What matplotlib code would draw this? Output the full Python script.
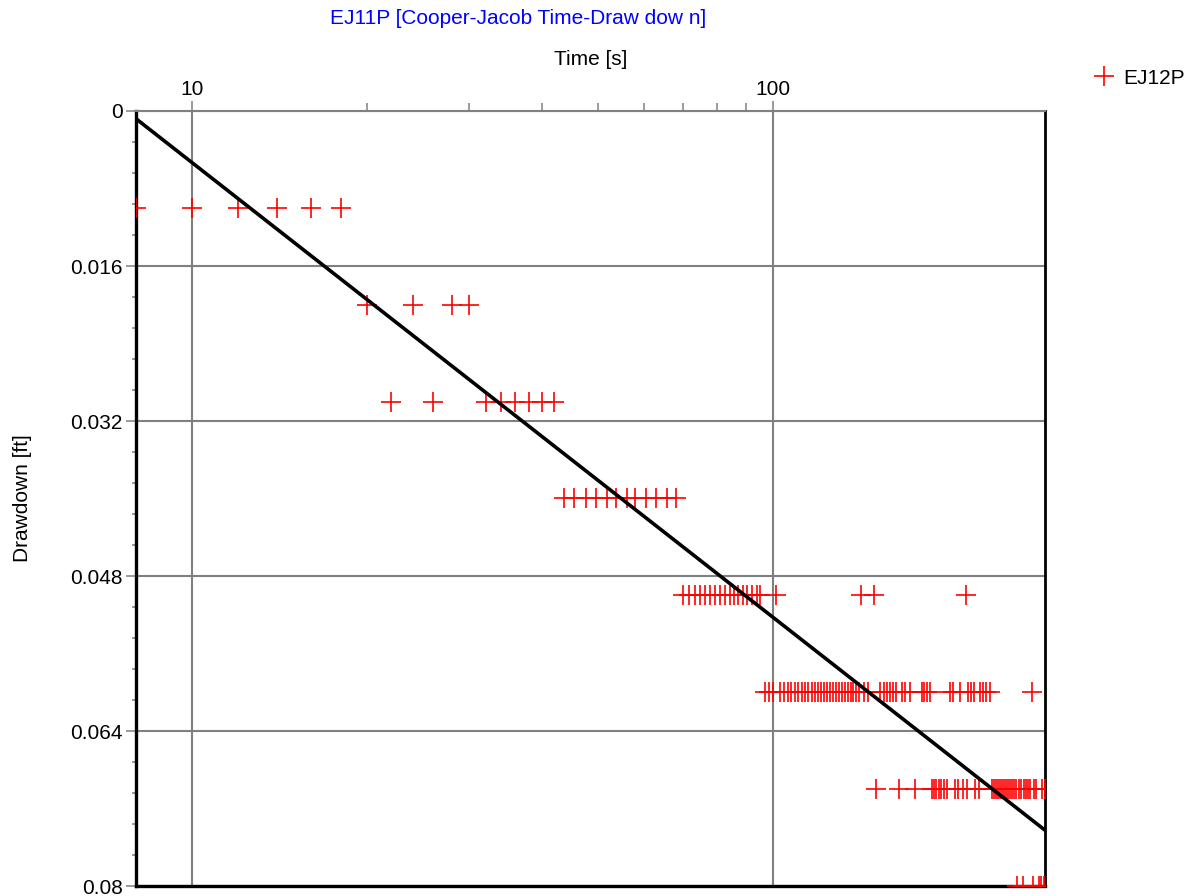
import matplotlib
matplotlib.use("Agg")
import matplotlib.pyplot as plt
from matplotlib.ticker import FixedLocator, MultipleLocator, NullFormatter, FixedFormatter
from matplotlib.lines import Line2D

plt.rcParams['font.family'] = ['Liberation Sans', 'DejaVu Sans']

# ---- data (time in s, drawdown in ft) ----
level_values = [0.01, 0.02, 0.03, 0.04, 0.05, 0.06, 0.07, 0.08]

times_001 = [8, 10, 12, 14, 16, 18]
times_002 = [20, 24, 28, 30]
times_003 = [22, 26, 32, 34, 36, 38, 40, 42]
times_004 = [43.7, 45.5, 47.6, 49.6, 51.7, 53.7, 56, 57.9, 60.4, 62.8, 65.6, 68]
times_005 = [70.1, 71.8, 73.4, 74.9, 76.4, 77.9, 79.5, 81.1, 82.7, 84.3, 85.7,
             87.2, 88.7, 90.1, 91.9, 93.7, 95, 101.2, 142, 149.5, 214.8]
times_006 = [96.9, 98.5, 100, 103, 104.5, 106, 107.5, 109, 110.5, 112, 113.5, 115,
             116.5, 118, 119.5, 121, 122.5, 124, 125.5, 127, 128.5, 130, 131.5,
             133, 134.5, 136, 137.5, 139, 140.5, 143.5, 145.5,
             153, 155, 157, 159, 161, 163, 167, 169, 172,
             180.5, 182, 184, 186, 202, 204, 210,
             216.5, 219, 222, 227, 230, 233, 236, 279]
times_007 = [150.5, 165, 175.5, 187.5, 189, 191, 193, 195, 197, 199.5, 206, 208,
             212, 216, 223, 226, 238, 240, 242, 244, 246, 248, 250, 252, 254, 256,
             258, 260, 262, 265, 267, 271, 273, 275, 277, 282, 284, 291, 294]
times_008 = [263, 269, 280, 286.6, 289, 292.5]

fit_time = [8, 294]
fit_drawdown = [0.0008, 0.07424]

x_ticks = [10, 100]
x_tick_labels = ['10', '100']
x_minor_ticks = [20, 30, 40, 50, 60, 70, 80, 90]
y_ticks = [0, 0.016, 0.032, 0.048, 0.064, 0.08]
y_tick_labels = ['0', '0.016', '0.032', '0.048', '0.064', '0.08']

title_text = 'EJ11P [Cooper-Jacob Time-Draw dow n]'
x_label = 'Time [s]'
y_label = 'Drawdown [ft]'
series_name = 'EJ12P'

# ---- figure ----
W, H = 1199, 896
fig = plt.figure(figsize=(W / 100, H / 100), dpi=100)
ax = fig.add_axes([136 / W, (H - 886) / H, (1045 - 136) / W, (886 - 111) / H])

all_times = []
all_dd = []
for lv, ts in zip(level_values, [times_001, times_002, times_003, times_004,
                                  times_005, times_006, times_007, times_008]):
    all_times.extend(ts)
    all_dd.extend([lv] * len(ts))

ax.plot(all_times, all_dd, ls='none', marker='+', ms=13.7, mew=1.2,
        color='#ff0000', zorder=3)
ax.plot(fit_time, fit_drawdown, color='black', lw=2.6, zorder=4,
        solid_capstyle='butt')

ax.set_xscale('log')
ax.set_xlim(8, 294)
ax.set_ylim(0.08, 0)

grey = '#808080'
ax.xaxis.set_major_locator(FixedLocator(x_ticks))
ax.xaxis.set_major_formatter(FixedFormatter(x_tick_labels))
ax.xaxis.set_minor_locator(FixedLocator(x_minor_ticks))
ax.xaxis.set_minor_formatter(NullFormatter())
ax.yaxis.set_major_locator(FixedLocator(y_ticks))
ax.yaxis.set_major_formatter(FixedFormatter(y_tick_labels))
ax.yaxis.set_minor_locator(MultipleLocator(0.0032))

ax.xaxis.tick_top()
ax.tick_params(axis='both', which='major', direction='out', length=7.5,
               width=1.1, color=grey, labelsize=15, labelcolor='black')
ax.tick_params(axis='x', which='major', pad=1)
ax.tick_params(axis='y', which='major', pad=2)
ax.tick_params(axis='x', which='minor', direction='out', length=5.5,
               width=1.1, color=grey, top=True, bottom=False)
ax.tick_params(axis='y', which='minor', direction='out', length=3,
               width=1.1, color=grey)

ax.grid(True, which='major', color=grey, lw=1.5, zorder=0)
ax.set_axisbelow(True)

for side in ['left', 'bottom']:
    ax.spines[side].set_color('black')
    ax.spines[side].set_linewidth(2.4)
ax.spines['right'].set_color('black')
ax.spines['right'].set_linewidth(2.0)
ax.spines['top'].set_color(grey)
ax.spines['top'].set_linewidth(1.5)

ax.xaxis.set_label_position('top')
ax.set_xlabel(x_label, fontsize=15, va='center')
ax.xaxis.set_label_coords(0.5, 1 + (111 - 60) / 775)
ax.set_ylabel(y_label, fontsize=15, va='center', ha='center')
ax.yaxis.set_label_coords(-(136 - 23) / 909, 0.5)

fig.suptitle(title_text, x=518 / W, y=1 - 19 / H, fontsize=15,
             color='#0000ff', ha='center', va='center')

handle = Line2D([], [], ls='none', marker='+', ms=13.7, mew=1.2, color='#ff0000')
fig.legend([handle], [series_name], loc='center left',
           bbox_to_anchor=(1093.6 / W, 1 - 78 / H), frameon=False,
           fontsize=15, handlelength=1.0, handletextpad=0.4,
           borderpad=0, borderaxespad=0)

fig.savefig('out.png', dpi=100)
